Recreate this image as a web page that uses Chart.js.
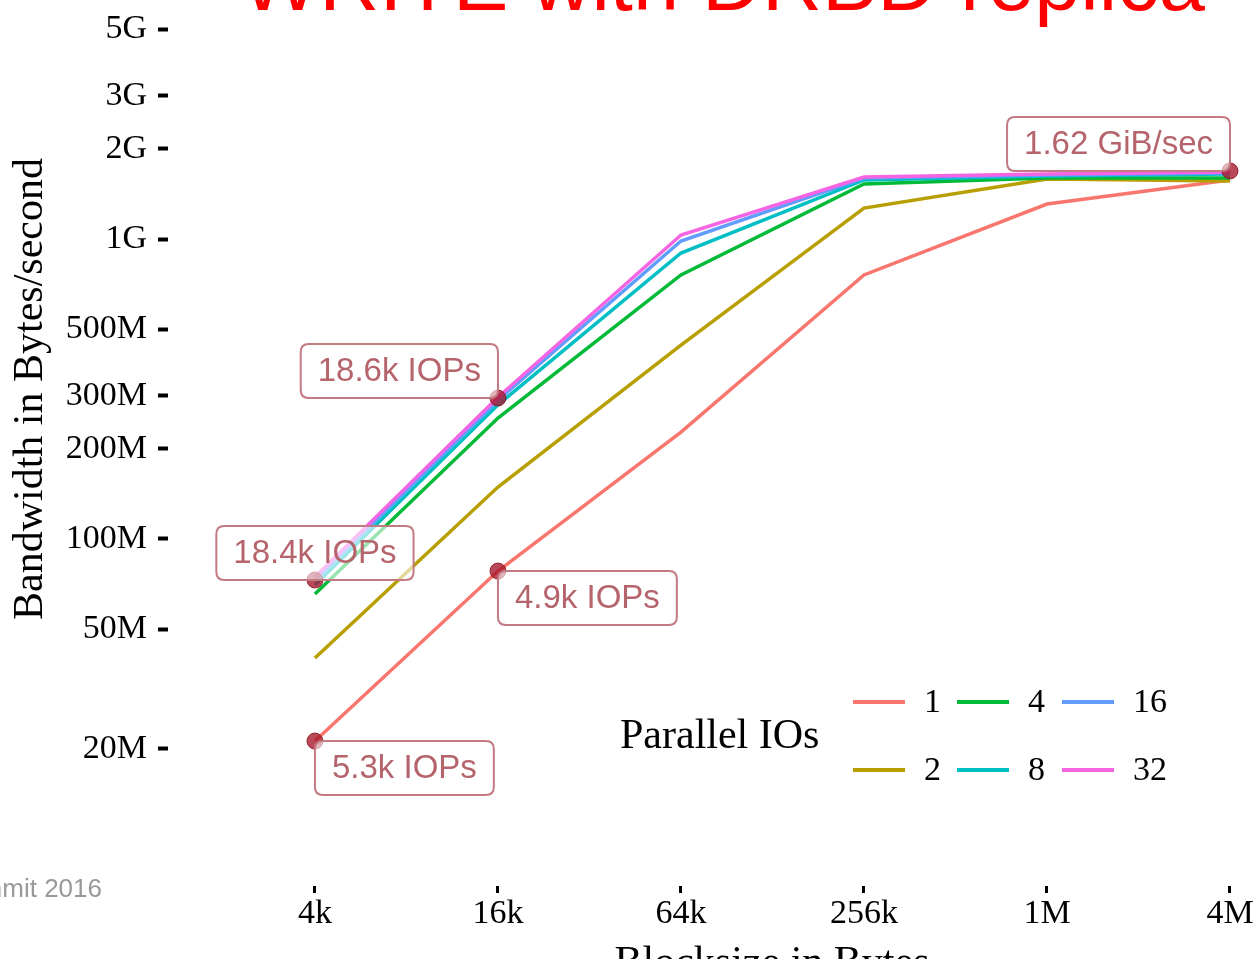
<!DOCTYPE html>
<html>
<head>
<meta charset="utf-8">
<script src="https://cdn.jsdelivr.net/npm/chart.js@4/dist/chart.umd.min.js"></script>
<style>
  html, body { margin: 0; padding: 0; background: #fff; overflow: hidden; }
  canvas { display: block; }
</style>
</head>
<body>
<canvas id="chart" width="1258" height="959"></canvas>
<script>
const categories = ["4k", "16k", "64k", "256k", "1M", "4M"];
const seriesNames = ["1", "2", "4", "8", "16", "32"];

// bandwidth in bytes/second, one array per number of parallel IOs
const io1 = [21.2e6, 78.2e6, 227e6, 759e6, 1.308e9, 1.573e9];
const io2 = [40.1e6, 149e6, 443e6, 1.268e9, 1.585e9, 1.56e9];
const io4 = [65.6e6, 253e6, 759e6, 1.525e9, 1.597e9, 1.597e9];
const io8 = [70.3e6, 280e6, 898e6, 1.573e9, 1.622e9, 1.646e9];
const io16 = [73e6, 290e6, 985e6, 1.597e9, 1.635e9, 1.66e9];
const io32 = [74.7e6, 297e6, 1.031e9, 1.61e9, 1.646e9, 1.672e9];

const yTickValues = [20e6, 50e6, 100e6, 200e6, 300e6, 500e6, 1e9, 2e9, 3e9, 5e9];
const yTickLabels = ["20M", "50M", "100M", "200M", "300M", "500M", "1G", "2G", "3G", "5G"];

// highlighted points
const noteX = [0, 1, 1, 0, 5];
const noteY = [73e6, 295e6, 78.2e6, 21.2e6, 1.686e9];
const noteText = ["18.4k IOPs", "18.6k IOPs", "4.9k IOPs", "5.3k IOPs", "1.62 GiB/sec"];

const chartTitle = "WRITE with DRBD replica";
const xTitle = "Blocksize in Bytes";
const yTitle = "Bandwidth in Bytes/second";
const legendTitle = "Parallel IOs";
const watermark = "Summit 2016";

const SERIF = "'Liberation Serif', 'DejaVu Serif', serif";
const SANS = "'Liberation Sans', Arial, sans-serif";
const palette = ["#F8766D", "#B79F00", "#00BA38", "#00BFC4", "#619CFF", "#F564E3"];
const notePlace = ["above", "aboveLeft", "belowRight", "belowRight", "aboveLeft"];

const allSeries = [io1, io2, io4, io8, io16, io32];

function roundBox(ctx, x, y, w, h, r) {
  ctx.beginPath();
  ctx.moveTo(x + r, y);
  ctx.lineTo(x + w - r, y);
  ctx.quadraticCurveTo(x + w, y, x + w, y + r);
  ctx.lineTo(x + w, y + h - r);
  ctx.quadraticCurveTo(x + w, y + h, x + w - r, y + h);
  ctx.lineTo(x + r, y + h);
  ctx.quadraticCurveTo(x, y + h, x, y + h - r);
  ctx.lineTo(x, y + r);
  ctx.quadraticCurveTo(x, y, x + r, y);
  ctx.closePath();
}

const decorations = {
  id: "decorations",
  afterDatasetsDraw(chart) {
    const ctx = chart.ctx;
    const xs = chart.scales.x, ys = chart.scales.y;
    ctx.save();
    ctx.font = "33px " + SANS;
    ctx.textAlign = "center";
    ctx.textBaseline = "middle";
    noteText.forEach((t, i) => {
      const px = xs.getPixelForValue(noteX[i]);
      const py = ys.getPixelForValue(noteY[i]);
      const w = ctx.measureText(t).width + 34;
      const h = 54;
      let left = px, top = py;
      if (notePlace[i] === "above") { left = px - w / 2; top = py - h; }
      else if (notePlace[i] === "aboveLeft") { left = px - w; top = py - h; }
      roundBox(ctx, left, top, w, h, 8);
      ctx.fillStyle = "rgba(255,255,255,0.6)";
      ctx.fill();
      ctx.lineWidth = 2;
      ctx.strokeStyle = "#c47a82";
      ctx.stroke();
      ctx.fillStyle = "#b5646c";
      ctx.fillText(t, left + w / 2, top + h / 2 + 1);
    });
    ctx.restore();
  },
  afterDraw(chart) {
    const ctx = chart.ctx;
    ctx.save();

    ctx.fillStyle = "#ff0000";
    ctx.font = "83px " + SANS;
    ctx.textAlign = "left";
    ctx.textBaseline = "alphabetic";
    ctx.fillText(chartTitle, 241, 10);

    ctx.fillStyle = "#999999";
    ctx.font = "26px " + SANS;
    ctx.textAlign = "right";
    ctx.fillText(watermark, 102, 897);

    ctx.fillStyle = "#000";
    ctx.font = "42px " + SERIF;
    ctx.textAlign = "center";
    ctx.fillText(xTitle, 772, 975);

    ctx.save();
    ctx.translate(31, 389);
    ctx.rotate(-Math.PI / 2);
    ctx.textBaseline = "middle";
    ctx.fillText(yTitle, 0, 0);
    ctx.restore();

    // legend
    ctx.textAlign = "left";
    ctx.textBaseline = "middle";
    ctx.font = "42px " + SERIF;
    ctx.fillText(legendTitle, 620, 737);
    ctx.font = "34px " + SERIF;
    const colX = [853, 957, 1062];
    const rowY = [702, 770];
    seriesNames.forEach((name, i) => {
      const cx = colX[Math.floor(i / 2)];
      const cy = rowY[i % 2];
      ctx.strokeStyle = palette[i];
      ctx.lineWidth = 4;
      ctx.beginPath();
      ctx.moveTo(cx, cy);
      ctx.lineTo(cx + 52, cy);
      ctx.stroke();
      ctx.fillStyle = "#000";
      ctx.fillText(name, cx + 71, cy + 1);
    });
    ctx.restore();
  }
};

const datasets = allSeries.map((vals, i) => ({
  label: seriesNames[i],
  data: vals.map((v, j) => ({ x: j, y: v })),
  borderColor: palette[i],
  borderWidth: 3.5,
  pointRadius: 0,
  tension: 0,
  fill: false,
  order: allSeries.length - i
}));

datasets.push({
  label: "notes",
  data: noteX.map((x, i) => ({ x: x, y: noteY[i] })),
  showLine: false,
  pointRadius: 8,
  pointBackgroundColor: "rgba(165,22,42,0.78)",
  pointBorderColor: "rgba(140,20,35,0.85)",
  pointBorderWidth: 1,
  order: 0
});

new Chart(document.getElementById("chart"), {
  type: "line",
  data: { datasets },
  plugins: [decorations],
  options: {
    responsive: false,
    animation: false,
    events: [],
    layout: { padding: 0, autoPadding: false },
    plugins: { legend: { display: false }, tooltip: { enabled: false }, title: { display: false } },
    scales: {
      x: {
        type: "linear",
        min: -0.803,
        max: 5.153,
        afterBuildTicks: (s) => { s.ticks = categories.map((c, i) => ({ value: i })); },
        afterFit: (s) => { s.height = 73; s.paddingLeft = 0; s.paddingRight = 0; },
        ticks: {
          callback: (v) => categories[v],
          font: { family: SERIF, size: 34 },
          color: "#000",
          padding: 1,
          maxRotation: 0,
          autoSkip: false
        },
        grid: { drawOnChartArea: false, tickLength: 7, tickWidth: 3, tickColor: "#000" },
        border: { display: false }
      },
      y: {
        type: "logarithmic",
        min: 6.97e6,
        max: 6.262e9,
        afterBuildTicks: (s) => { s.ticks = yTickValues.map((v) => ({ value: v })); },
        afterFit: (s) => { s.width = 168; s.paddingTop = 0; s.paddingBottom = 0; },
        ticks: {
          callback: (v) => yTickLabels[yTickValues.indexOf(v)],
          font: { family: SERIF, size: 34 },
          color: "#000",
          padding: 11,
          autoSkip: false
        },
        grid: { drawOnChartArea: false, tickLength: 10, tickWidth: 4, tickColor: "#000" },
        border: { display: false }
      }
    }
  }
});
</script>
</body>
</html>
